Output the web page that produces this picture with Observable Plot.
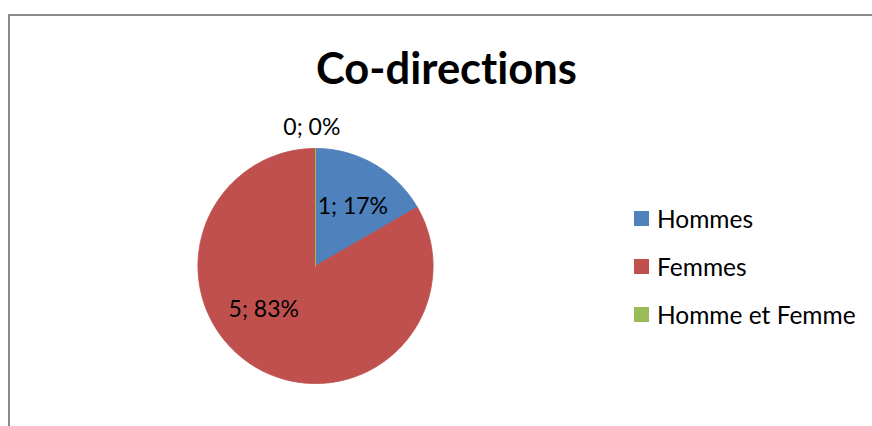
<!DOCTYPE html>
<html>
<head>
<meta charset="utf-8">
<script src="https://cdn.jsdelivr.net/npm/d3@7"></script>
<script src="https://cdn.jsdelivr.net/npm/@observablehq/plot@0.6"></script>
<style>
  html, body { margin: 0; padding: 0; background: #fff; }
  body { width: 872px; height: 426px; overflow: hidden; font-family: Lato, "Open Sans", sans-serif;
         font-variant-ligatures: none; font-feature-settings: "liga" 0; }
  #wrap { position: relative; width: 872px; height: 426px; overflow: hidden; }
  #frame { position: absolute; left: 8px; top: 14px; width: 900px; height: 460px;
           border-left: 2px solid #898989; border-top: 2px solid #898989; box-sizing: border-box; }
  #chart { position: absolute; left: 0; top: 0; }
  #title { position: absolute; left: 0; width: 893px; top: 41px; text-align: center;
           font-weight: bold; font-size: 43.5px; line-height: 52px; color: #000; }
  .leg { position: absolute; left: 634px; height: 16px; display: flex; align-items: center;
         font-size: 24.5px; color: #000; white-space: nowrap; }
  .leg .sw { width: 15px; height: 15px; margin-right: 8px; flex: none; }
</style>
</head>
<body>
<div id="wrap">
  <div id="frame"></div>
  <div id="chart"></div>
  <div id="title"></div>
</div>
<script>
// ---- data ----
const title = "Co-directions";
const categories = ["Hommes", "Femmes", "Homme et Femme"];
const values = [1, 5, 0];
const colors = ["#4F81BD", "#C0504D", "#9BBB59"];
// label placement (radius as fraction of pie radius, angular shift in degrees) – Excel "best fit"
const labelRadius = [0.6, 0.575, 1.18];
const labelShift = [2, 20, -1.5];

// ---- layout ----
const W = 872, H = 426;
const cx = 315, cy = 265.5, R = 117.5;

const total = d3.sum(values);
const arcs = d3.pie().sort(null).value(d => d)(values);

// polygon points of each slice (unit radius, angle clockwise from 12 o'clock)
const slicePts = [];
arcs.forEach((a, i) => {
  const cat = categories[i];
  slicePts.push({u: 0, v: 0, cat});
  const n = Math.max(1, Math.ceil((a.endAngle - a.startAngle) / (Math.PI / 360)));
  for (let k = 0; k <= n; k++) {
    const t = a.startAngle + (a.endAngle - a.startAngle) * k / n;
    slicePts.push({u: Math.sin(t), v: Math.cos(t), cat});
  }
  slicePts.push({u: 0, v: 0, cat});
});

const labels = arcs.map((a, i) => {
  const mid = (a.startAngle + a.endAngle) / 2 + labelShift[i] * Math.PI / 180;
  const r = labelRadius[i];
  const pct = Math.round(values[i] / total * 100);
  return {u: r * Math.sin(mid), v: r * Math.cos(mid), text: `${values[i]}; ${pct}%`};
});

const plot = Plot.plot({
  width: W, height: H,
  margin: 0,
  x: {domain: [-cx / R, (W - cx) / R], axis: null},
  y: {domain: [(cy - H) / R, cy / R], axis: null},
  color: {domain: categories, range: colors},
  style: {background: "transparent", fontFamily: "Lato, sans-serif"},
  marks: [
    Plot.line(slicePts, {x: "u", y: "v", z: "cat", fill: "cat", stroke: "cat", strokeWidth: 1, curve: "linear"}),
    Plot.text(labels, {x: "u", y: "v", text: "text", fontSize: 23, fill: "#000", textAnchor: "middle"})
  ]
});
document.getElementById("chart").appendChild(plot);
document.getElementById("title").textContent = title;

const wrap = document.getElementById("wrap");
categories.forEach((c, i) => {
  const row = document.createElement("div");
  row.className = "leg";
  row.style.top = (210 + i * 48.3) + "px";
  const sw = document.createElement("span");
  sw.className = "sw";
  sw.style.background = colors[i];
  const tx = document.createElement("span");
  tx.textContent = c;
  row.appendChild(sw);
  row.appendChild(tx);
  wrap.appendChild(row);
});
</script>
</body>
</html>
